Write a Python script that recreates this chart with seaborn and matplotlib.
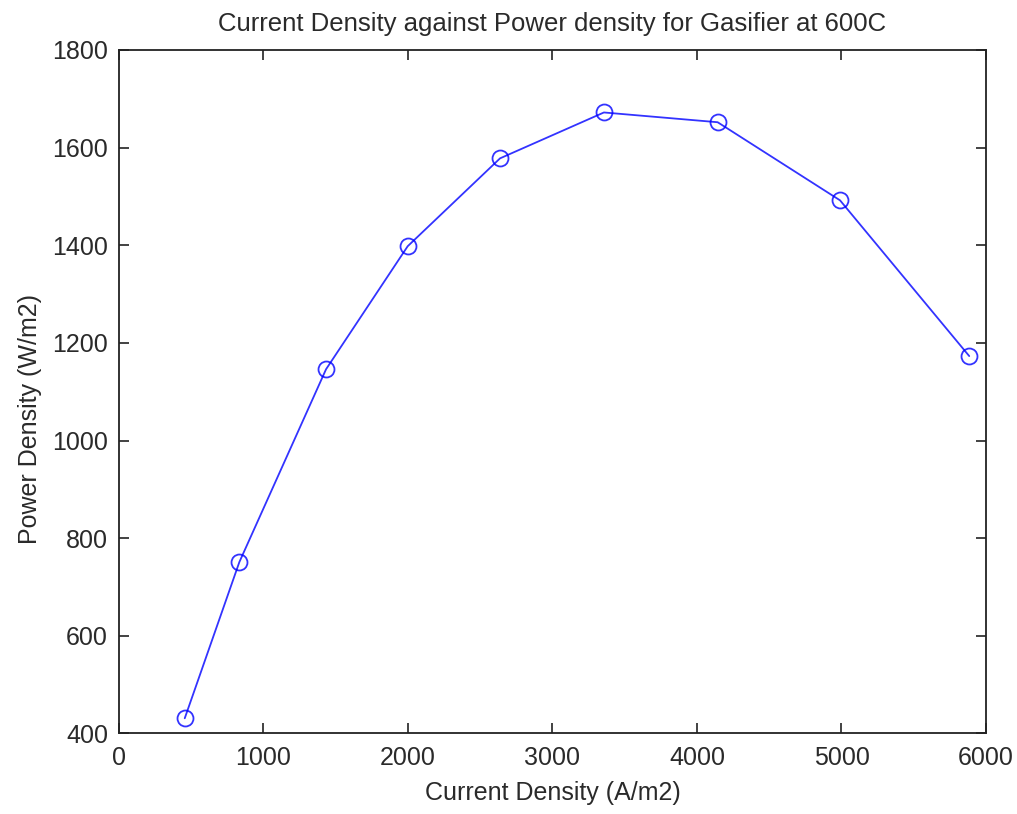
import matplotlib
matplotlib.use("Agg")
import matplotlib.pyplot as plt
import seaborn as sns
import pandas as pd

# Measured current density (A/m2) and resulting power density (W/m2)
current_density = [455, 833, 1433, 1998, 2637, 3356, 4143, 4990, 5884]
power_density = [431, 751, 1146, 1398, 1578, 1672, 1652, 1492, 1173]

x_ticks = [0, 1000, 2000, 3000, 4000, 5000, 6000]
y_ticks = [400, 600, 800, 1000, 1200, 1400, 1600, 1800]

sns.set_style("ticks")
plt.rcParams["font.family"] = ["Liberation Sans", "DejaVu Sans"]

df = pd.DataFrame({"current": current_density, "power": power_density})

fig = plt.figure(figsize=(10.17, 8.14), dpi=100)
ax = fig.add_axes([0.117, 0.099, 0.8525, 0.8396])

sns.lineplot(data=df, x="current", y="power", ax=ax, sort=False,
             color="#0000ff", linewidth=1.3, marker="o", markersize=11.5,
             markerfacecolor="none", markeredgecolor="#0000ff",
             markeredgewidth=1.3, alpha=0.8)

ax.set_xlim(0, 6000)
ax.set_ylim(400, 1800)
ax.set_xticks(x_ticks)
ax.set_yticks(y_ticks)

text_color = "#2a2a2a"
for side in ["top", "right", "left", "bottom"]:
    ax.spines[side].set_visible(True)
    ax.spines[side].set_color("#222222")
    ax.spines[side].set_linewidth(1.3)

ax.tick_params(direction="in", length=7, width=1.2, colors="#222222",
               labelsize=18, top=True, right=True, labelcolor=text_color)
ax.tick_params(axis="x", pad=9)
ax.tick_params(axis="y", pad=8)

ax.set_xlabel("Current Density (A/m2)", fontsize=18, color=text_color, labelpad=8)
ax.set_ylabel("Power Density (W/m2)", fontsize=18, color=text_color)
ax.yaxis.set_label_coords(-0.089, 0.46)
ax.set_title("Current Density against Power density for Gasifier at 600C",
             fontsize=18.5, color=text_color, pad=14)

fig.savefig("out.png", dpi=100, facecolor="white")
